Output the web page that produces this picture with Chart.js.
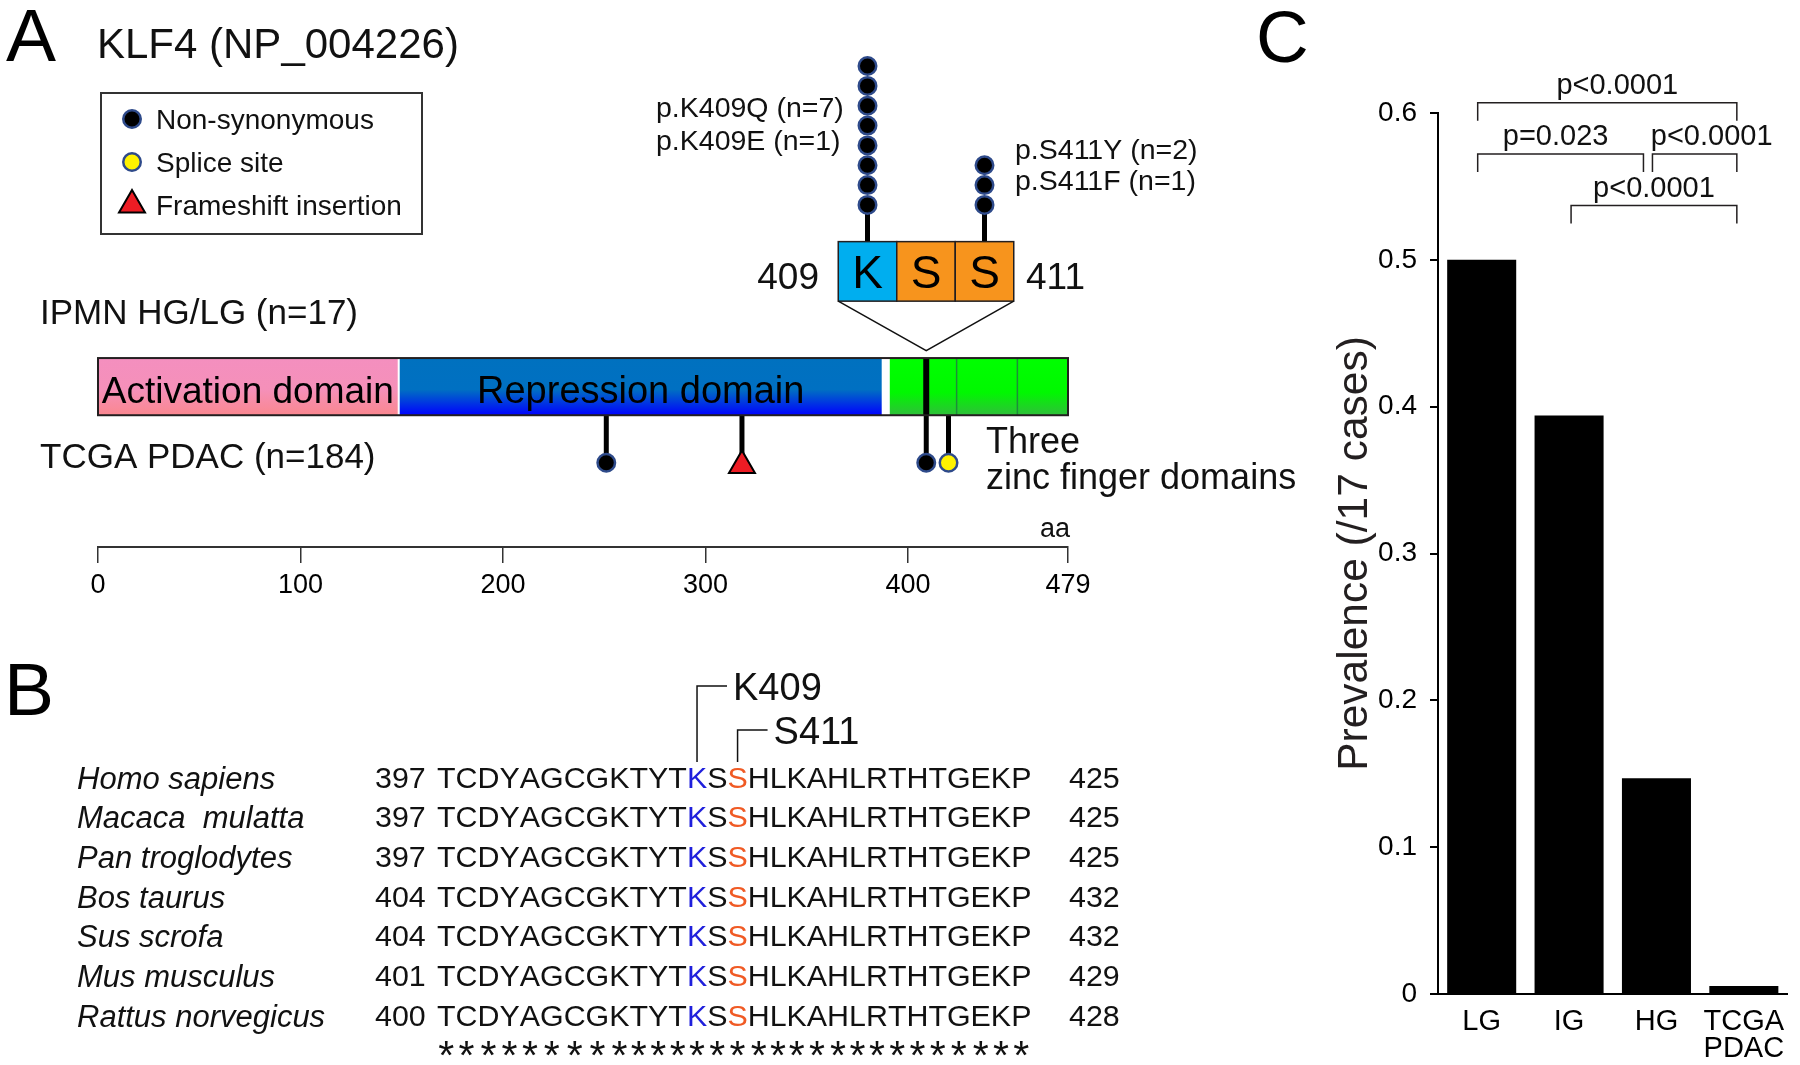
<!DOCTYPE html>
<html>
<head>
<meta charset="utf-8">
<script src="https://cdn.jsdelivr.net/npm/chart.js@4.4.1/dist/chart.umd.min.js"></script>
<style>
html, body { margin: 0; padding: 0; background: #fff; }
#wrap { position: relative; width: 1800px; height: 1065px; overflow: hidden; }
canvas { position: absolute; }
</style>
</head>
<body>
<div id="wrap">
  <canvas id="panelA" width="1310" height="1065" style="left:0;top:0"></canvas>
  <canvas id="inset" width="198" height="332" style="left:827px;top:30px"></canvas>
  <canvas id="panelC" width="560" height="1065" style="left:1240px;top:0"></canvas>
</div>
<script>
// ---- panel A data: KLF4 protein, 479 aa ----
const proteinLength = 479;
const aaTicks = [0, 100, 200, 300, 400, 479];
const domainNames = ['Activation domain', 'Repression domain', ''];
const domainStart = [1, 150, 392];
const domainEnd = [148, 387, 479];
const zincFingerBreaks = [424, 454];
const tcgaNonSyn = [251, 409];
const tcgaSplice = [420];
const tcgaFrameshift = [318];

// IPMN hot spot (inset)
const ipmnSites = [409, 410, 411];
const ipmnResidues = ['K', 'S', 'S'];
const ipmnCounts = [8, 0, 3];
const ipmnLabels = [['p.K409Q (n=7)', 'p.K409E (n=1)'], [], ['p.S411Y (n=2)', 'p.S411F (n=1)']];

// ---- panel B data: alignment ----
const species = ['Homo sapiens', 'Macaca  mulatta', 'Pan troglodytes', 'Bos taurus', 'Sus scrofa', 'Mus musculus', 'Rattus norvegicus'];
const seqStart = [397, 397, 397, 404, 404, 401, 400];
const seqEnd = [425, 425, 425, 432, 432, 429, 428];
const motif = 'TCDYAGCGKTYTKSSHLKAHLRTHTGEKP';
const markedSites = [409, 411];
const markedNames = ['K409', 'S411'];

// ---- panel C data ----
const groups = ['LG', 'IG', 'HG', ['TCGA', 'PDAC']];
const prevalence = [0.5, 0.394, 0.147, 0.0054];
const comparisons = [[0, 3, 'p<0.0001'], [0, 2, 'p=0.023'], [2, 3, 'p<0.0001'], [1, 3, 'p<0.0001']];

// ---- layout / style ----
const FONT = "'Liberation Sans', Arial, Helvetica, sans-serif";
const TRACK = { barTop: 195, barBottom: 136, tcgaHead: 87, tcgaTriangle: 84 }; // height above aa axis
const INSET = { boxTop: -1.35, boxBottom: -4.35 };
const DOMAIN_FILL = [
  [[0, '#F48FBF'], [0.55, '#F590B9'], [1, '#FA878F']],
  [[0, '#0071BF'], [0.55, '#0070C2'], [1, '#0000FF']],
  [[0, '#00FF00'], [0.6, '#00F800'], [1, '#2FBF3A']]
];
const RESIDUE_FILL = { K: '#00AEEF', S: '#F7941D' };
const MARK_COLOR = ['#1F1FDC', '#F05A24'];
const BRACKET_LEVEL = [0.607, 0.572, 0.572, 0.537];
const BRACKET_DX = [0, 0, 0, 6];
const LABEL_DX = [10, -5, 17, 0];

Chart.defaults.font.family = FONT;
Chart.defaults.color = '#000';

function label(ctx, text, x, yc, font, opts = {}) {
  ctx.save();
  ctx.font = font;
  ctx.fillStyle = opts.color || '#111';
  ctx.textAlign = opts.align || 'left';
  ctx.textBaseline = 'alphabetic';
  const cap = ctx.measureText('H').actualBoundingBoxAscent;
  ctx.fillText(text, x, opts.base ? yc : yc + cap / 2);
  ctx.restore();
}

function dot(ctx, x, y, fill) {
  ctx.beginPath();
  ctx.arc(x, y, 8.75, 0, Math.PI * 2);
  ctx.fillStyle = fill; ctx.fill();
  ctx.lineWidth = 2.5; ctx.strokeStyle = '#2E4A8A'; ctx.stroke();
}

const proteinPlugin = {
  id: 'protein',
  beforeDatasetsDraw(chart) {
    const { ctx, scales: { x, y } } = chart;
    const X = v => x.getPixelForValue(v), Y = v => y.getPixelForValue(v);
    const top = Y(TRACK.barTop), bot = Y(TRACK.barBottom);
    ctx.save();
    ctx.fillStyle = '#fff';
    ctx.fillRect(X(0), top, X(proteinLength) - X(0), bot - top);
    domainNames.forEach((name, k) => {
      const x0 = X(domainStart[k] - 1), x1 = X(domainEnd[k]);
      const g = ctx.createLinearGradient(0, top, 0, bot);
      DOMAIN_FILL[k].forEach(([o, c]) => g.addColorStop(o, c));
      ctx.fillStyle = g;
      ctx.fillRect(x0, top, x1 - x0, bot - top);
      if (name) label(ctx, name, (x0 + x1) / 2, (top + bot) / 2 + 3, (k ? '38px ' : '37px ') + FONT, { align: 'center', color: '#000' });
    });
    ctx.strokeStyle = '#1E8C3C'; ctx.lineWidth = 1.5;
    zincFingerBreaks.forEach(v => {
      ctx.beginPath(); ctx.moveTo(X(v), top); ctx.lineTo(X(v), bot); ctx.stroke();
    });
    // hot spot marker inside the bar
    ctx.strokeStyle = '#000'; ctx.lineWidth = 6;
    ctx.beginPath(); ctx.moveTo(X(ipmnSites[0]), top); ctx.lineTo(X(ipmnSites[0]), bot); ctx.stroke();
    // stems of TCGA mutations
    ctx.lineWidth = 5;
    chart.data.datasets.forEach(ds => ds.data.forEach(pt => {
      ctx.beginPath(); ctx.moveTo(X(pt.x), bot); ctx.lineTo(X(pt.x), Y(pt.y)); ctx.stroke();
    }));
    ctx.strokeStyle = '#231F20'; ctx.lineWidth = 2;
    ctx.strokeRect(X(0), top, X(proteinLength) - X(0), bot - top);
    ctx.restore();
  },
  afterDraw(chart) {
    const { ctx } = chart;
    ctx.save();
    label(ctx, 'A', 6, 61, '75px ' + FONT, { base: true, color: '#000' });
    label(ctx, 'KLF4 (NP_004226)', 97, 58, '42px ' + FONT, { base: true });

    // legend box
    ctx.strokeStyle = '#333'; ctx.lineWidth = 2;
    ctx.strokeRect(101, 93, 321, 141);
    dot(ctx, 132, 119, '#000');
    dot(ctx, 132, 162, '#FFF200');
    ctx.beginPath();
    ctx.moveTo(132, 190); ctx.lineTo(132 + 13, 212.5); ctx.lineTo(132 - 13, 212.5); ctx.closePath();
    ctx.fillStyle = '#ED1C24'; ctx.fill();
    ctx.lineWidth = 2; ctx.strokeStyle = '#000'; ctx.stroke();
    chart.data.datasets.forEach((ds, k) => label(ctx, ds.label, 156, 119 + 43 * k, '28px ' + FONT));

    // inset annotations
    ipmnLabels[0].forEach((t, k) => label(ctx, t, 656, 107 + 33 * k, '28.5px ' + FONT));
    ipmnLabels[2].forEach((t, k) => label(ctx, t, 1015, 149 + 31 * k, '28.5px ' + FONT));
    label(ctx, String(ipmnSites[0]), 819, 276, '37px ' + FONT, { align: 'right' });
    label(ctx, String(ipmnSites[2]), 1026, 276, '37px ' + FONT);

    label(ctx, 'IPMN HG/LG (n=17)', 40, 312, '35px ' + FONT);
    label(ctx, 'TCGA PDAC (n=184)', 40, 456, '35px ' + FONT);
    label(ctx, 'Three', 986, 440, '36px ' + FONT);
    label(ctx, 'zinc finger domains', 986, 476, '36px ' + FONT);
    label(ctx, 'aa', 1070, 527, '27px ' + FONT, { align: 'right' });

    // ---- panel B ----
    label(ctx, 'B', 4, 715, '75px ' + FONT, { base: true, color: '#000' });
    const rowY = i => 777.5 + i * 39.67;
    const seqFont = '30.4px ' + FONT;
    ctx.font = seqFont;
    const cap = ctx.measureText('H').actualBoundingBoxAscent;
    let centers = [];
    species.forEach((sp, i) => {
      label(ctx, sp, 77, rowY(i), 'italic 31px ' + FONT);
      label(ctx, String(seqStart[i]), 375, rowY(i), seqFont);
      label(ctx, String(seqEnd[i]), 1069, rowY(i), seqFont);
      ctx.font = seqFont; ctx.textAlign = 'left'; ctx.textBaseline = 'alphabetic';
      let xx = 437;
      centers = [];
      [...motif].forEach((ch, j) => {
        const w = ctx.measureText(ch).width;
        const m = markedSites.indexOf(seqStart[0] + j);
        ctx.fillStyle = m >= 0 ? MARK_COLOR[m] : '#111';
        ctx.fillText(ch, xx, rowY(i) + cap / 2);
        centers.push(xx + w / 2);
        xx += w;
      });
    });
    // conservation stars
    ctx.font = '41px ' + FONT;
    ctx.fillStyle = '#111'; ctx.textAlign = 'center';
    const sm = ctx.measureText('*');
    const starBase = 1048 + (sm.actualBoundingBoxAscent - sm.actualBoundingBoxDescent) / 2;
    centers.forEach(cx => ctx.fillText('*', cx, starBase));
    // site callouts
    ctx.strokeStyle = '#111'; ctx.lineWidth = 1.5;
    markedSites.forEach((s, k) => {
      const cx = centers[s - seqStart[0]];
      const ly = k === 0 ? 686 : 730;
      ctx.beginPath(); ctx.moveTo(cx, 762); ctx.lineTo(cx, ly); ctx.lineTo(cx + 30, ly); ctx.stroke();
      label(ctx, markedNames[k], cx + 36, ly, '38px ' + FONT);
    });
    ctx.restore();
  }
};

const chartA = new Chart(document.getElementById('panelA'), {
  type: 'scatter',
  data: {
    datasets: [
      { label: 'Non-synonymous', data: tcgaNonSyn.map(p => ({ x: p, y: TRACK.tcgaHead })),
        pointStyle: 'circle', pointRadius: 8.75, pointBackgroundColor: '#000', pointBorderColor: '#2E4A8A', pointBorderWidth: 2.5 },
      { label: 'Splice site', data: tcgaSplice.map(p => ({ x: p, y: TRACK.tcgaHead })),
        pointStyle: 'circle', pointRadius: 8.75, pointBackgroundColor: '#FFF200', pointBorderColor: '#2E4A8A', pointBorderWidth: 2.5 },
      { label: 'Frameshift insertion', data: tcgaFrameshift.map(p => ({ x: p, y: TRACK.tcgaTriangle })),
        pointStyle: 'triangle', pointRadius: 15, pointBackgroundColor: '#ED1C24', pointBorderColor: '#000', pointBorderWidth: 2 }
    ]
  },
  options: {
    responsive: false,
    animation: false,
    events: [],
    layout: { padding: { left: 98, right: 1310 - 1068, top: 0, bottom: 458 } },
    plugins: { legend: { display: false }, tooltip: { enabled: false } },
    scales: {
      x: {
        type: 'linear', min: 0, max: proteinLength,
        afterBuildTicks: s => { s.ticks = aaTicks.map(v => ({ value: v })); },
        afterFit: s => { s.height = 60; },
        grid: { drawOnChartArea: false, drawTicks: true, tickLength: 16, color: '#333', lineWidth: 1.5 },
        border: { display: true, color: '#333', width: 2 },
        ticks: { font: { size: 27 }, color: '#000', padding: 6, maxRotation: 0, autoSkip: false }
      },
      y: { display: false, min: 0, max: 547 }
    }
  },
  plugins: [proteinPlugin]
});

// ---- inset: IPMN hot spot K409-S411 ----
const ipmnPoints = ipmnSites.flatMap((p, k) =>
  Array.from({ length: ipmnCounts[k] }, (_, i) => ({ x: p, y: i + 0.5 })));

const insetPlugin = {
  id: 'inset',
  beforeDatasetsDraw(chart) {
    const { ctx, chartArea, scales: { x, y } } = chart;
    const X = v => x.getPixelForValue(v), Y = v => y.getPixelForValue(v);
    ctx.save();
    ctx.strokeStyle = '#000'; ctx.lineWidth = 5;
    ipmnSites.forEach((p, k) => {
      if (!ipmnCounts[k]) return;
      ctx.beginPath(); ctx.moveTo(X(p), Y(INSET.boxTop)); ctx.lineTo(X(p), Y(0.5)); ctx.stroke();
    });
    ipmnSites.forEach((p, k) => {
      const x0 = X(p - 0.5), x1 = X(p + 0.5), t = Y(INSET.boxTop), b = Y(INSET.boxBottom);
      ctx.fillStyle = RESIDUE_FILL[ipmnResidues[k]];
      ctx.fillRect(x0, t, x1 - x0, b - t);
      ctx.strokeStyle = '#231F20'; ctx.lineWidth = 1.5;
      ctx.strokeRect(x0, t, x1 - x0, b - t);
      label(ctx, ipmnResidues[k], (x0 + x1) / 2, (t + b) / 2 + 1, '46px ' + FONT, { align: 'center', color: '#000' });
    });
    // zoom connectors down to the protein bar
    const tx = chartA.scales.x.getPixelForValue(ipmnSites[0]) - 827;
    ctx.strokeStyle = '#111'; ctx.lineWidth = 1.5;
    ctx.beginPath();
    ctx.moveTo(X(ipmnSites[0] - 0.5), Y(INSET.boxBottom));
    ctx.lineTo(tx, chartArea.bottom);
    ctx.lineTo(X(ipmnSites[2] + 0.5), Y(INSET.boxBottom));
    ctx.stroke();
    ctx.restore();
  }
};

new Chart(document.getElementById('inset'), {
  type: 'scatter',
  data: { datasets: [{ data: ipmnPoints, pointRadius: 8.75, pointBackgroundColor: '#000',
    pointBorderColor: '#2E4A8A', pointBorderWidth: 2.5, clip: false }] },
  options: {
    responsive: false, animation: false, events: [],
    layout: { padding: 10 },
    plugins: { legend: { display: false }, tooltip: { enabled: false } },
    scales: {
      x: { display: false, type: 'linear', min: 408.5, max: 411.5 },
      y: { display: false, min: -6.85, max: 8.75 }
    }
  },
  plugins: [insetPlugin]
});

// ---- panel C ----
const bracketPlugin = {
  id: 'brackets',
  afterDraw(chart) {
    const { ctx, scales: { x, y } } = chart;
    ctx.save();
    label(ctx, 'C', 1256 - 1240, 62, '73px ' + FONT, { base: true, color: '#000' });
    ctx.strokeStyle = '#231F20'; ctx.lineWidth = 1.5;
    comparisons.forEach(([i, j, txt], k) => {
      const ly = y.getPixelForValue(BRACKET_LEVEL[k]);
      const shared = comparisons.some(([i2], k2) => k2 !== k && BRACKET_LEVEL[k2] === BRACKET_LEVEL[k] && i2 === j);
      const x1 = x.getPixelForValue(i) - 4 + BRACKET_DX[k];
      const x2 = x.getPixelForValue(j) - 7 - (shared ? 6 : 0);
      ctx.beginPath();
      ctx.moveTo(x1, ly + 18); ctx.lineTo(x1, ly); ctx.lineTo(x2, ly); ctx.lineTo(x2, ly + 18);
      ctx.stroke();
      label(ctx, txt, (x1 + x2) / 2 + LABEL_DX[k], ly - 9, '29px ' + FONT, { align: 'center', base: true });
    });
    ctx.restore();
  }
};

new Chart(document.getElementById('panelC'), {
  type: 'bar',
  data: {
    labels: groups,
    datasets: [{ data: prevalence, backgroundColor: '#000', borderWidth: 0, categoryPercentage: 1, barPercentage: 0.79 }]
  },
  options: {
    responsive: false, animation: false, events: [],
    layout: { padding: { left: 85.8, right: 7, top: 113, bottom: 0 } },
    plugins: { legend: { display: false }, tooltip: { enabled: false } },
    scales: {
      x: {
        grid: { display: false, drawTicks: false },
        border: { display: true, color: '#000', width: 2 },
        ticks: { font: { size: 29, lineHeight: 0.93 }, color: '#000', padding: 15, maxRotation: 0 },
        afterFit: s => { s.height = 71; }
      },
      y: {
        min: 0, max: 0.6,
        ticks: { stepSize: 0.1, font: { size: 28 }, color: '#000', padding: 13 },
        grid: { drawOnChartArea: false, tickLength: 8, color: '#000', lineWidth: 2 },
        border: { display: true, color: '#000', width: 2 },
        title: { display: true, text: 'Prevalence (/17 cases)', font: { size: 42.5 }, color: '#231F20', padding: { top: 4, bottom: 4 } },
        afterFit: s => { s.width = 112.2; }
      }
    }
  },
  plugins: [bracketPlugin]
});
</script>
</body>
</html>
